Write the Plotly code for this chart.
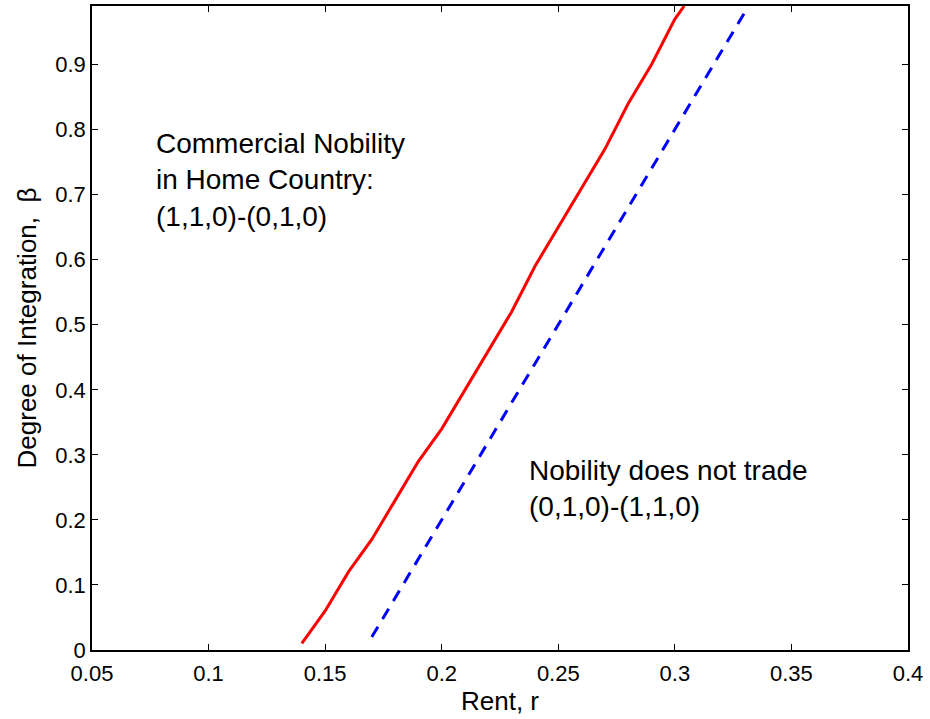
import plotly.graph_objects as go

# Solid red boundary
red_r = [0.14, 0.15, 0.16, 0.17, 0.18, 0.19, 0.20, 0.21, 0.22, 0.23, 0.24, 0.25, 0.26, 0.27, 0.28, 0.29, 0.30, 0.304]
red_beta = [0.01, 0.06, 0.12, 0.17, 0.23, 0.29, 0.34, 0.40, 0.46, 0.52, 0.59, 0.65, 0.71, 0.77, 0.84, 0.90, 0.97, 0.99]

# Dashed blue boundary
blue_r = [0.17, 0.18, 0.19, 0.20, 0.21, 0.22, 0.23, 0.24, 0.25, 0.26, 0.27, 0.28, 0.29, 0.30, 0.31, 0.32, 0.33, 0.3316]
blue_beta = [0.02, 0.08, 0.14, 0.20, 0.26, 0.32, 0.38, 0.44, 0.50, 0.56, 0.62, 0.68, 0.74, 0.80, 0.86, 0.92, 0.98, 0.99]

x_ticks = [0.05, 0.1, 0.15, 0.2, 0.25, 0.3, 0.35, 0.4]
x_tick_labels = ["0.05", "0.1", "0.15", "0.2", "0.25", "0.3", "0.35", "0.4"]
y_ticks = [0, 0.1, 0.2, 0.3, 0.4, 0.5, 0.6, 0.7, 0.8, 0.9]
y_tick_labels = ["0", "0.1", "0.2", "0.3", "0.4", "0.5", "0.6", "0.7", "0.8", "0.9"]

FONT = "Liberation Sans, Arial, sans-serif"

fig = go.Figure()
fig.add_trace(go.Scatter(x=red_r, y=red_beta, mode="lines",
                         line=dict(color="#ff0000", width=3), showlegend=False))
fig.add_trace(go.Scatter(x=blue_r, y=blue_beta, mode="lines",
                         line=dict(color="#0000ff", width=3, dash="12px,9px"), showlegend=False))

fig.add_annotation(x=0.0768, y=0.722, xref="x", yref="y",
                   text="Commercial Nobility<br>in Home Country:<br>(1,1,0)-(0,1,0)",
                   showarrow=False, xanchor="left", yanchor="middle", align="left",
                   font=dict(family=FONT, size=28, color="black"))
fig.add_annotation(x=0.2367, y=0.249, xref="x", yref="y",
                   text="Nobility does not trade<br>(0,1,0)-(1,1,0)",
                   showarrow=False, xanchor="left", yanchor="middle", align="left",
                   font=dict(family=FONT, size=28, color="black"))

axis_common = dict(showgrid=False, zeroline=False, showline=True, linecolor="black",
                   linewidth=1.5, mirror="allticks", ticks="inside", ticklen=6,
                   tickcolor="black", tickwidth=1,
                   tickfont=dict(family=FONT, size=22, color="black"))

fig.update_xaxes(range=[0.05, 0.4], tickvals=x_ticks, ticktext=x_tick_labels,
                 ticklabelstandoff=3,
                 title=dict(text="Rent, r", font=dict(family=FONT, size=26, color="black"), standoff=5),
                 **axis_common)
fig.update_yaxes(range=[0, 0.99], tickvals=y_ticks, ticktext=y_tick_labels,
                 title=dict(text="Degree of Integration,  β", font=dict(family=FONT, size=26, color="black"), standoff=11),
                 **axis_common)

fig.update_layout(width=930, height=719, plot_bgcolor="white", paper_bgcolor="white",
                  margin=dict(l=92, r=22, t=6, b=69, autoexpand=False),
                  font=dict(family=FONT, color="black"))

fig.write_html("out.html", config={"displayModeBar": False},
               post_script="document.body.style.margin='0px';")
